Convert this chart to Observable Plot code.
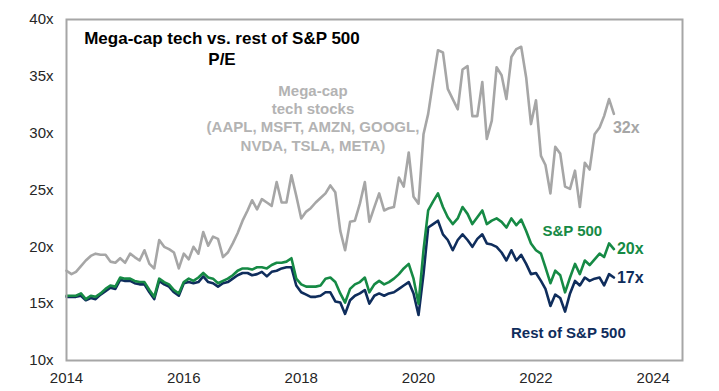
<!DOCTYPE html>
<html><head><meta charset="utf-8">
<script src="https://cdn.jsdelivr.net/npm/d3@7"></script>
<script src="https://cdn.jsdelivr.net/npm/@observablehq/plot@0.6"></script>
<style>
body{margin:0;background:#fff;font-family:"Liberation Sans",Arial,sans-serif;}
#wrap{position:relative;width:719px;height:391px;}
#title{position:absolute;left:72px;top:28px;width:300px;text-align:center;font-weight:bold;font-size:17px;line-height:21px;color:#000;}
</style></head><body>
<div id="wrap"><div id="title">Mega-cap tech vs. rest of S&amp;P 500<br>P/E</div></div>
<script>
// Monthly P/E, Jan 2014 – May 2023
const megaCapPE = [
17.9,17.6,17.8,18.3,18.8,19.2,19.4,19.3,19.3,18.7,18.6,19.0,
18.6,19.4,19.1,18.8,19.7,18.5,18.1,20.6,20.0,19.8,19.5,18.1,
19.4,18.9,20.0,19.4,21.3,20.1,20.9,20.7,19.1,19.5,20.3,21.2,
22.3,23.2,24.1,23.3,24.2,23.9,23.6,25.7,23.9,23.9,26.3,24.5,
22.5,23.1,23.4,23.9,24.3,24.7,25.4,24.8,21.4,19.7,22.2,22.3,
23.8,25.7,22.2,23.5,24.7,23.2,23.4,23.5,26.1,25.3,28.3,24.4,
23.8,29.9,31.7,34.6,37.3,37.1,33.9,33.0,32.1,35.6,35.9,31.5,
31.5,34.5,29.5,31.1,35.8,35.1,33.0,36.7,37.4,37.6,34.9,30.8,
32.9,28.0,27.2,24.7,28.8,28.2,25.3,25.1,26.7,23.5,27.4,26.8,
29.9,30.5,31.5,33.0,31.7];
const sp500PE = [
15.7,15.7,15.7,15.9,15.4,15.7,15.6,15.9,16.3,16.6,16.5,17.3,
17.2,17.2,17.0,16.9,16.9,16.2,15.6,17.2,16.9,16.7,16.2,15.9,
16.9,17.2,17.0,17.3,17.7,17.3,17.2,16.8,17.0,17.2,17.5,17.9,
18.1,18.1,18.0,18.2,18.2,18.1,18.4,18.6,18.6,18.7,19.0,17.2,
16.7,16.5,16.5,16.5,16.6,17.2,17.3,16.9,15.9,15.1,16.3,16.7,
16.9,17.3,16.0,16.7,17.0,16.7,16.9,17.2,17.6,18.1,18.5,17.2,
15.0,19.7,23.2,24.0,24.7,23.5,22.6,22.0,22.5,23.5,22.9,22.0,
22.6,23.2,22.0,22.3,22.5,22.2,21.7,22.5,21.9,22.4,21.4,20.3,
19.7,19.4,18.2,16.8,17.9,17.5,16.0,17.3,18.5,17.6,18.8,18.4,
18.9,19.4,19.1,20.3,19.8];
const restPE = [
15.6,15.6,15.6,15.7,15.3,15.5,15.4,15.8,16.1,16.4,16.3,17.1,
17.0,17.0,16.8,16.7,16.7,16.0,15.4,17.0,16.7,16.5,16.0,15.7,
16.8,16.9,16.8,16.9,17.4,16.9,16.8,16.5,16.8,16.9,17.2,17.5,
17.7,17.7,17.5,17.6,17.8,17.4,17.8,17.9,18.1,18.2,18.2,16.6,
16.0,15.8,15.6,15.6,15.7,16.0,16.0,15.2,15.1,14.1,15.3,15.7,
15.9,16.2,15.0,15.7,15.9,15.7,15.9,16.0,16.3,16.6,16.9,15.9,
14.0,17.6,21.7,22.0,22.3,21.1,20.6,19.7,20.6,21.1,20.6,20.0,
20.7,21.1,20.3,20.2,20.0,19.5,18.8,19.7,18.8,19.3,18.5,17.6,
17.7,17.0,16.3,14.8,15.8,15.5,14.3,15.9,17.0,16.6,17.3,17.0,
17.2,17.3,16.6,17.6,17.3];
const yTicks = [10, 15, 20, 25, 30, 35, 40];
const yearTicks = [2014, 2016, 2018, 2020, 2022, 2024];
const seriesNames = ["Mega-cap\ntech stocks\n(AAPL, MSFT, AMZN, GOOGL,\nNVDA, TSLA, META)", "S&P 500", "Rest of S&P 500"];
const nameDates = ["2018-03-15", "2022-08-15", "2022-07-22"];
const nameValues = [31.4, 21.35, 12.42];

const colors = {mega: "#a6a6a6", spx: "#168a45", rest: "#0f2d5c"};

const months = d3.utcMonth.range(new Date(Date.UTC(2014, 0, 1)), new Date(Date.UTC(2023, 5, 1)));
const rows = months.map((d, i) => ({date: d, mega: megaCapPE[i], spx: sp500PE[i], rest: restPE[i]}));
const last = rows[rows.length - 1];
const names = seriesNames.map((t, i) => ({text: t, date: new Date(nameDates[i]), value: nameValues[i]}));
const fmtX = v => v.toFixed(0) + "x";

const chart = Plot.plot({
  width: 719, height: 391,
  marginLeft: 66, marginRight: 37, marginTop: 19, marginBottom: 31,
  style: {fontFamily: "'Liberation Sans', Arial, sans-serif", fontSize: "15px", color: "#262626", background: "#fff"},
  x: {type: "utc", domain: [new Date(Date.UTC(2014, 0, 1)), new Date(Date.UTC(2024, 6, 1))]},
  y: {domain: [10, 40]},
  marks: [
    Plot.axisY({ticks: yTicks, tickFormat: d => d + "x", tickSize: 0, tickPadding: 13, label: null, fontSize: 15}),
    Plot.axisX({ticks: yearTicks.map(y => new Date(Date.UTC(y, 0, 1))), tickFormat: d3.utcFormat("%Y"), tickSize: 0, tickPadding: 12, label: null, fontSize: 15}),
    Plot.lineY(rows, {x: "date", y: "mega", stroke: colors.mega, strokeWidth: 2.6}),
    Plot.lineY(rows, {x: "date", y: "rest", stroke: colors.rest, strokeWidth: 2.6}),
    Plot.lineY(rows, {x: "date", y: "spx", stroke: colors.spx, strokeWidth: 2.6}),
    Plot.frame({stroke: "#a6a6a6", strokeWidth: 2}),
    Plot.text([names[0]], {x: "date", y: "value", text: "text", fill: "#b3b3b3", fontWeight: "bold", fontSize: 15, lineHeight: 1.22}),
    Plot.text([names[1]], {x: "date", y: "value", text: "text", fill: colors.spx, fontWeight: "bold", fontSize: 15}),
    Plot.text([names[2]], {x: "date", y: "value", text: "text", fill: colors.rest, fontWeight: "bold", fontSize: 15}),
    Plot.text([last], {x: "date", y: "mega", text: d => fmtX(d.mega), fill: "#a6a6a6", fontWeight: "bold", fontSize: 16, textAnchor: "start", dx: -1, dy: 14}),
    Plot.text([last], {x: "date", y: "spx", text: d => fmtX(d.spx), fill: colors.spx, fontWeight: "bold", fontSize: 16, textAnchor: "start", dx: 3}),
    Plot.text([last], {x: "date", y: "rest", text: d => fmtX(d.rest), fill: colors.rest, fontWeight: "bold", fontSize: 16, textAnchor: "start", dx: 3})
  ]
});
document.getElementById("wrap").prepend(chart);
</script>
</body></html>
